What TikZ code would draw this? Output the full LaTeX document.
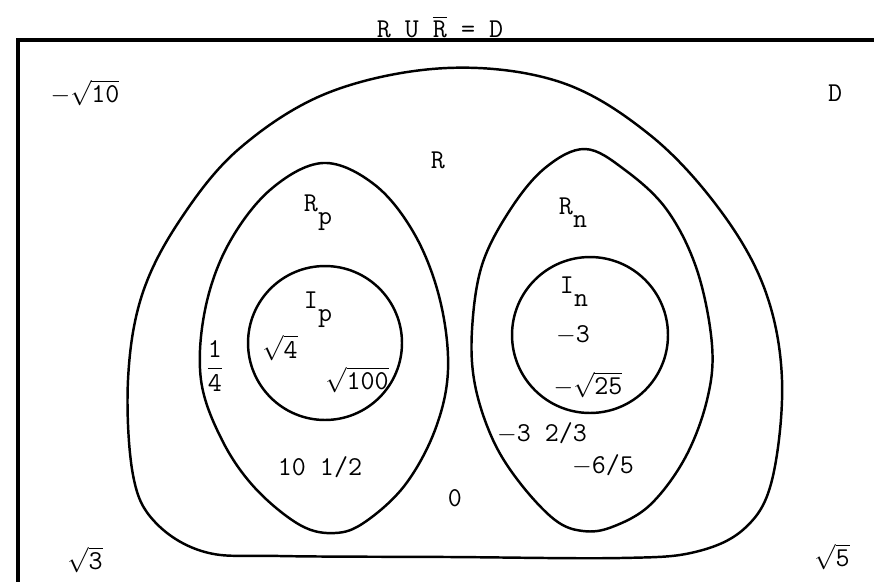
\documentclass[tikz,border=0pt]{standalone}
\usepackage{amsmath}
\usepackage{fontspec}
\usepackage{tikz}
\usetikzlibrary{positioning}
\newcommand{\typefont}{\fontsize{15.5}{18}\selectfont\ttfamily}
\newcommand{\rootof}[1]{$\sqrt{\texttt{#1}}$}
\newcommand{\lowered}[1]{\raisebox{-1.1ex}{#1}}
\newcommand{\mns}{$-$}
\tikzset{
  frameline/.style={line width=2pt},
  region/.style={line width=1.4pt, line join=round},
  circset/.style={circle, draw, line width=1.4pt, inner sep=0pt},
  lbl/.style={font=\typefont, inner sep=0pt},
}
\begin{document}
\begin{tikzpicture}[x=0.02cm, y=-0.02cm]
  \useasboundingbox (0,0) rectangle (874,582);

  % frame of D
  \draw[frameline] (874,40) -- (18,40) -- (18,582);

  % R
  \draw[region] plot[smooth cycle, tension=0.6] coordinates {
    (447,68) (560,82) (650,135) (720,210) (765,290) (782,380) (772,480)
    (745,528) (695,552) (620,558) (450,557) (280,556) (205,552) (155,522)
    (133,475) (128,380) (142,295) (180,220) (240,148) (330,92)};

  % R_p and R_n
  \draw[region] plot[smooth cycle, tension=0.6] coordinates {
    (323,163) (375,185) (415,235) (440,300) (448,370) (435,430) (405,485)
    (365,522) (335,533) (300,525) (255,488) (222,440) (201,380) (205,310)
    (228,245) (270,190)};
  \draw[region] plot[smooth cycle, tension=0.6] coordinates {
    (585,149) (625,170) (667,210) (697,270) (712,345) (707,400) (685,458)
    (650,505) (612,527) (583,531) (555,520) (520,483) (493,440) (475,385)
    (472,330) (482,265) (510,210) (545,168)};

  % I_p and I_n
  \node[circset, minimum size=3.08cm] (Ip) at (325,343) {};
  \node[circset, minimum size=3.12cm] (In) at (590,335) {};

  \node[lbl] (title) at (440,27) {R U $\overline{\mbox{R}}$ = D};
  \node[lbl] (negroot10) at (85,93) {\mns\rootof{10}};
  \node[lbl] (Dlbl) at (835,93) {D};
  \node[lbl] (Rlbl) at (438,160) {R};
  \node[lbl] (Rplbl) at (318,213) {R\lowered{p}};
  \node[lbl] (Rnlbl) at (573,213) {R\lowered{n}};
  \node[lbl] (Iplbl) at (318,310) {I\lowered{p}};
  \node[lbl] (Inlbl) at (574,292) {I\lowered{n}};
  \node[lbl] (root4) at (280,348) {\rootof{4}};
  \node[lbl] (root100) at (357,380) {\rootof{100}};
  \node[lbl] (quarter) at (215,366) {$\dfrac{\texttt{1}}{\texttt{4}}$};
  \node[lbl] (tenhalf) at (320,467) {10 1/2};
  \node[lbl] (minus3) at (573,335) {\mns 3};
  \node[lbl] (negroot25) at (588,385) {\mns\rootof{25}};
  \node[lbl] (mixed) at (542,433) {\mns 3 2/3};
  \node[lbl] (sixfifths) at (603,465) {\mns 6/5};
  \node[lbl] (zero) at (455,498) {0};
  \node[lbl] (root3) at (85,560) {\rootof{3}};
  \node[lbl] (root5) at (832,557) {\rootof{5}};
\end{tikzpicture}
\end{document}
